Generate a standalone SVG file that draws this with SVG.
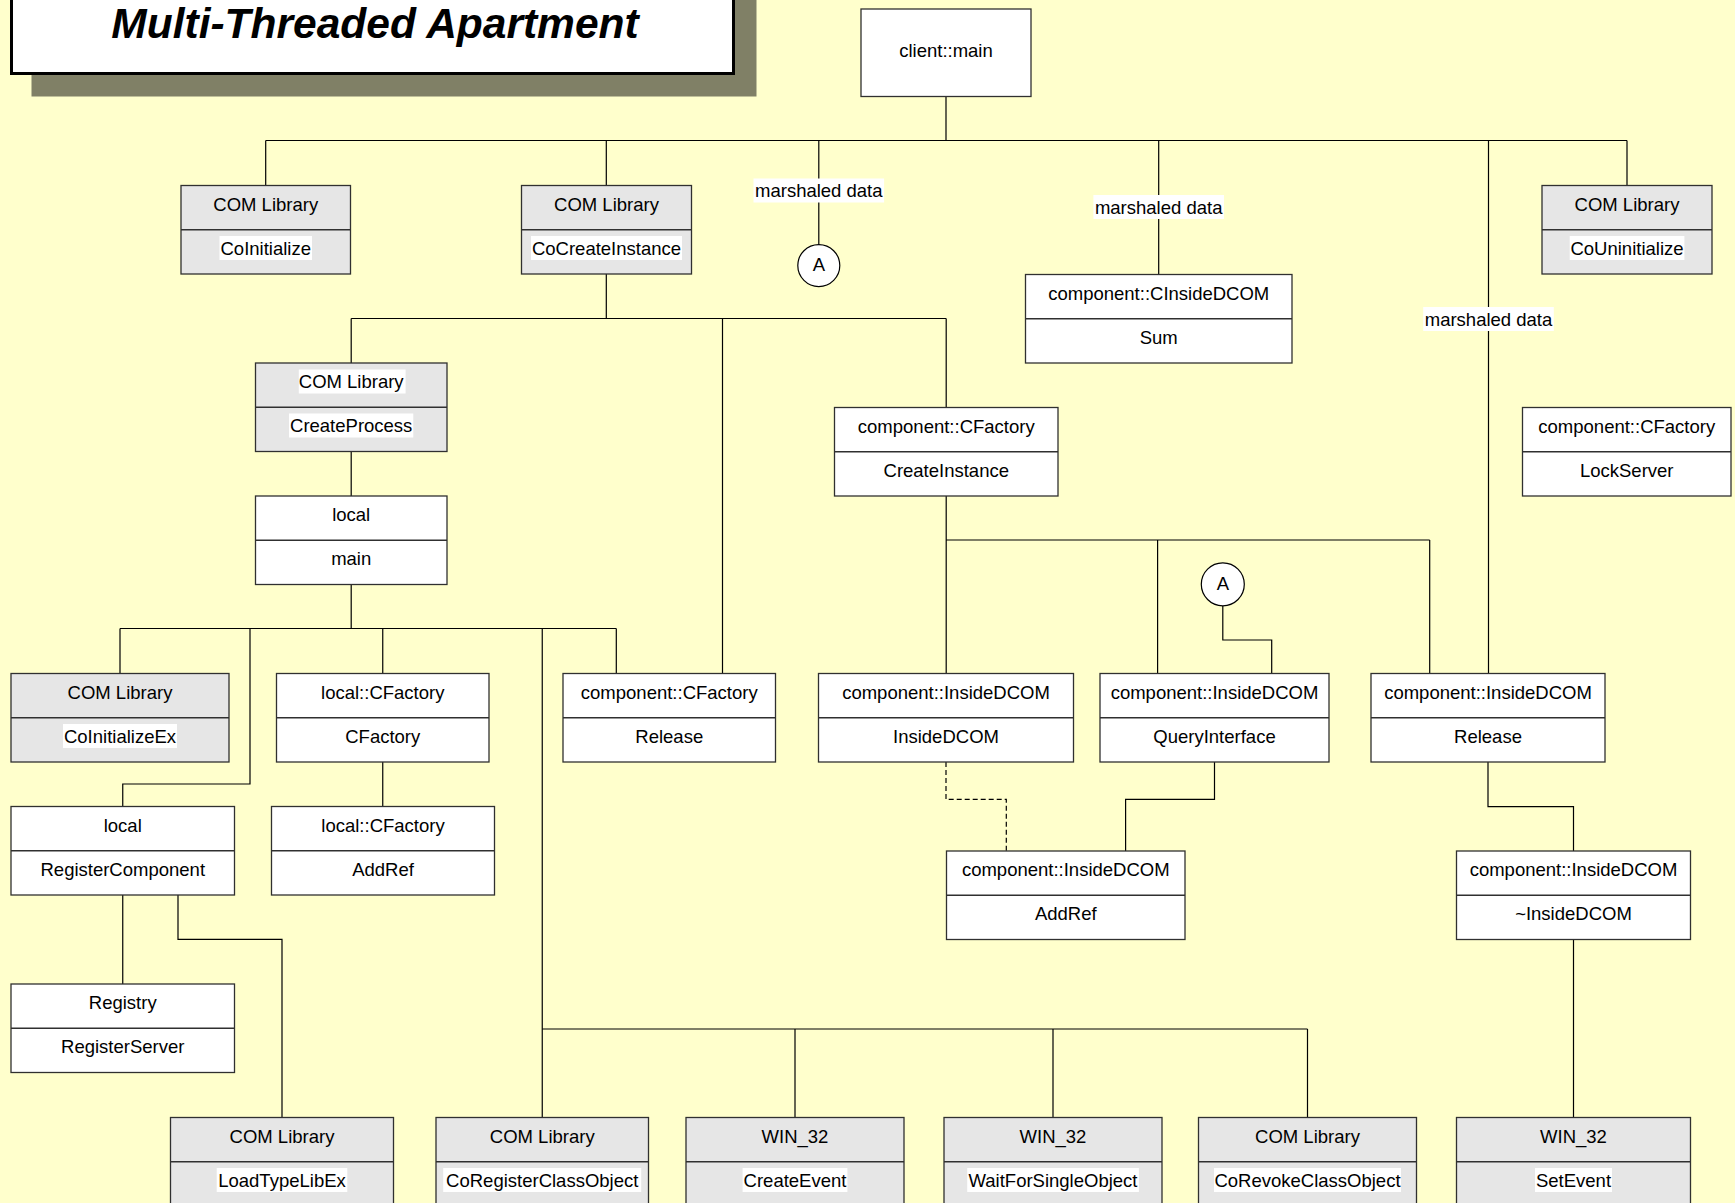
<svg xmlns="http://www.w3.org/2000/svg" width="1735" height="1203" viewBox="0 0 1735 1203">
  <style>
    .bg { fill: #ffffcc; }
    .box { fill: #ffffff; stroke: #303030; stroke-width: 1.3; }
    .gray { fill: #e6e6e6; stroke: #303030; stroke-width: 1.3; }
    .sep { stroke: #303030; stroke-width: 1.3; }
    .t { font-family: "Liberation Sans", Arial, sans-serif; font-size: 18.5px; fill: #000; text-anchor: middle; transform: translateY(-1px); }
    .hl { fill: #ffffff; transform: translateY(-1px); }
    .wire { fill: none; stroke: #000; stroke-width: 1.2; }
    .dash { fill: none; stroke: #000; stroke-width: 1.2; stroke-dasharray: 5 3; }
    .conn { fill: #ffffff; stroke: #000; stroke-width: 1.2; }
  </style>

  <rect class="bg" x="0" y="0" width="1735" height="1203"/>

  <!-- title banner with drop shadow -->
  <g id="title">
    <rect x="31.5" y="-10" width="725" height="106.5" fill="#808066"/>
    <rect x="11.5" y="-30" width="722" height="103.5" fill="#ffffff" stroke="#000" stroke-width="3"/>
    <text x="375" y="37.5" font-family="Liberation Sans, Arial, sans-serif" font-size="42.5" font-weight="bold" font-style="italic" text-anchor="middle">Multi-Threaded Apartment</text>
  </g>

  <!-- connectors -->
  <g id="connectors">
    <path class="wire" d="M946 96.5 V140.5 M265.7 140.5 H1627 M265.7 140.5 V185.5 M606.3 140.5 V185.5 M818.8 140.5 V244.5 M1158.7 140.5 V274.5 M1488.5 140.5 V673.5 M1627 140.5 V185.5"/>
    <path class="wire" d="M606.3 274 V318.5 M351.2 318.5 H946.2 M351.2 318.5 V363 M722.5 318.5 V673.5 M946.2 318.5 V407.5"/>
    <path class="wire" d="M351.2 451.5 V496"/>
    <path class="wire" d="M351.2 584.5 V628.5 M120 628.5 H616.3 M120 628.5 V673.5 M250 628.5 V784 H122.75 V806.5 M382.75 628.5 V673.5 M542.25 628.5 V1117.5 M616.3 628.5 V673.5"/>
    <path class="wire" d="M382.75 762 V806.5"/>
    <path class="wire" d="M122.75 895 V984 M178 895 V939.4 H282 V1117.5"/>
    <path class="wire" d="M542.25 1029 H1307.5 M795 1029 V1117.5 M1053 1029 V1117.5 M1307.5 1029 V1117.5"/>
    <path class="wire" d="M946.2 496 V540 H1429.7 M946.2 540 V673.5 M1157.6 540 V673.5 M1429.7 540 V673.5"/>
    <path class="wire" d="M1222.8 605.8 V640 H1271.7 V673.5"/>
    <path class="wire" d="M1214.5 762 V799.3 H1125.6 V851"/>
    <path class="dash" d="M946 762 V799.3 H1006.3 V851"/>
    <path class="wire" d="M1488 762 V806.7 H1573.5 V851"/>
    <path class="wire" d="M1573.5 939.5 V1117.5"/>

    <!-- marshaled data labels -->
    <rect class="hl" x="753.5" y="179.5" width="130.6" height="24"/>
    <text class="t" x="818.8" y="198">marshaled data</text>
    <rect class="hl" x="1093.4" y="196" width="130.6" height="24"/>
    <text class="t" x="1158.7" y="214.5">marshaled data</text>
    <rect class="hl" x="1423.2" y="308" width="130.6" height="24"/>
    <text class="t" x="1488.5" y="326.5">marshaled data</text>
  </g>

  <!-- off-page connectors -->
  <g id="connector-a1">
    <circle class="conn" cx="818.8" cy="265.6" r="21"/>
    <text class="t" x="818.8" y="272">A</text>
  </g>
  <g id="connector-a2">
    <circle class="conn" cx="1222.8" cy="584.3" r="21.5"/>
    <text class="t" x="1222.8" y="590.7">A</text>
  </g>

  <!-- nodes -->
  <g id="client-main">
    <rect class="box" x="861" y="9" width="170" height="87.5"/>
    <text class="t" x="946" y="58">client::main</text>
  </g>

  <g id="com-coinitialize">
    <rect class="gray" x="181" y="185.5" width="169.5" height="88.5"/>
    <line class="sep" x1="181" y1="229.75" x2="350.5" y2="229.75"/>
    <text class="t" x="265.75" y="211.5">COM Library</text>
    <rect class="hl" x="219.5" y="237" width="92.5" height="24"/>
    <text class="t" x="265.75" y="255.5">CoInitialize</text>
  </g>

  <g id="com-cocreateinstance">
    <rect class="gray" x="521.5" y="185.5" width="170" height="88.5"/>
    <line class="sep" x1="521.5" y1="229.75" x2="691.5" y2="229.75"/>
    <text class="t" x="606.5" y="211.5">COM Library</text>
    <rect class="hl" x="531" y="237" width="151" height="24"/>
    <text class="t" x="606.5" y="255.5">CoCreateInstance</text>
  </g>

  <g id="com-couninitialize">
    <rect class="gray" x="1542" y="185.5" width="170" height="88.5"/>
    <line class="sep" x1="1542" y1="229.75" x2="1712" y2="229.75"/>
    <text class="t" x="1627" y="211.5">COM Library</text>
    <rect class="hl" x="1569.7" y="237" width="114.7" height="24"/>
    <text class="t" x="1627" y="255.5">CoUninitialize</text>
  </g>

  <g id="cinsidedcom-sum">
    <rect class="box" x="1025.5" y="274.5" width="266.5" height="88.5"/>
    <line class="sep" x1="1025.5" y1="318.75" x2="1292" y2="318.75"/>
    <text class="t" x="1158.75" y="300.5">component::CInsideDCOM</text>
    <text class="t" x="1158.75" y="344.5">Sum</text>
  </g>

  <g id="com-createprocess">
    <rect class="gray" x="255.5" y="363" width="191.5" height="88.5"/>
    <line class="sep" x1="255.5" y1="407.25" x2="447" y2="407.25"/>
    <rect class="hl" x="298.8" y="370.5" width="106.8" height="24"/>
    <text class="t" x="351.2" y="389">COM Library</text>
    <rect class="hl" x="289" y="414.5" width="124.3" height="24"/>
    <text class="t" x="351.2" y="433">CreateProcess</text>
  </g>

  <g id="cfactory-createinstance">
    <rect class="box" x="834.5" y="407.5" width="223.5" height="88.5"/>
    <line class="sep" x1="834.5" y1="451.75" x2="1058" y2="451.75"/>
    <text class="t" x="946.25" y="433.5">component::CFactory</text>
    <text class="t" x="946.25" y="477.5">CreateInstance</text>
  </g>

  <g id="cfactory-lockserver">
    <rect class="box" x="1522.5" y="407.5" width="208.5" height="88.5"/>
    <line class="sep" x1="1522.5" y1="451.75" x2="1731" y2="451.75"/>
    <text class="t" x="1626.75" y="433.5">component::CFactory</text>
    <text class="t" x="1626.75" y="477.5">LockServer</text>
  </g>

  <g id="local-main">
    <rect class="box" x="255.5" y="496" width="191.5" height="88.5"/>
    <line class="sep" x1="255.5" y1="540.25" x2="447" y2="540.25"/>
    <text class="t" x="351.2" y="522">local</text>
    <text class="t" x="351.2" y="566">main</text>
  </g>

  <g id="com-coinitializeex">
    <rect class="gray" x="11" y="673.5" width="218" height="88.5"/>
    <line class="sep" x1="11" y1="717.75" x2="229" y2="717.75"/>
    <text class="t" x="120" y="699.5">COM Library</text>
    <rect class="hl" x="63" y="725" width="114" height="24"/>
    <text class="t" x="120" y="743.5">CoInitializeEx</text>
  </g>

  <g id="local-cfactory-ctor">
    <rect class="box" x="276.5" y="673.5" width="212.5" height="88.5"/>
    <line class="sep" x1="276.5" y1="717.75" x2="489" y2="717.75"/>
    <text class="t" x="382.75" y="699.5">local::CFactory</text>
    <text class="t" x="382.75" y="743.5">CFactory</text>
  </g>

  <g id="cfactory-release">
    <rect class="box" x="563" y="673.5" width="212.5" height="88.5"/>
    <line class="sep" x1="563" y1="717.75" x2="775.5" y2="717.75"/>
    <text class="t" x="669.25" y="699.5">component::CFactory</text>
    <text class="t" x="669.25" y="743.5">Release</text>
  </g>

  <g id="insidedcom-ctor">
    <rect class="box" x="818.5" y="673.5" width="255" height="88.5"/>
    <line class="sep" x1="818.5" y1="717.75" x2="1073.5" y2="717.75"/>
    <text class="t" x="946" y="699.5">component::InsideDCOM</text>
    <text class="t" x="946" y="743.5">InsideDCOM</text>
  </g>

  <g id="insidedcom-queryinterface">
    <rect class="box" x="1100" y="673.5" width="229" height="88.5"/>
    <line class="sep" x1="1100" y1="717.75" x2="1329" y2="717.75"/>
    <text class="t" x="1214.5" y="699.5">component::InsideDCOM</text>
    <text class="t" x="1214.5" y="743.5">QueryInterface</text>
  </g>

  <g id="insidedcom-release">
    <rect class="box" x="1371" y="673.5" width="234" height="88.5"/>
    <line class="sep" x1="1371" y1="717.75" x2="1605" y2="717.75"/>
    <text class="t" x="1488" y="699.5">component::InsideDCOM</text>
    <text class="t" x="1488" y="743.5">Release</text>
  </g>

  <g id="local-registercomponent">
    <rect class="box" x="11" y="806.5" width="223.5" height="88.5"/>
    <line class="sep" x1="11" y1="850.75" x2="234.5" y2="850.75"/>
    <text class="t" x="122.75" y="832.5">local</text>
    <text class="t" x="122.75" y="876.5">RegisterComponent</text>
  </g>

  <g id="local-cfactory-addref">
    <rect class="box" x="271.5" y="806.5" width="223" height="88.5"/>
    <line class="sep" x1="271.5" y1="850.75" x2="494.5" y2="850.75"/>
    <text class="t" x="383" y="832.5">local::CFactory</text>
    <text class="t" x="383" y="876.5">AddRef</text>
  </g>

  <g id="insidedcom-addref">
    <rect class="box" x="946.5" y="851" width="238.5" height="88.5"/>
    <line class="sep" x1="946.5" y1="895.25" x2="1185" y2="895.25"/>
    <text class="t" x="1065.75" y="877">component::InsideDCOM</text>
    <text class="t" x="1065.75" y="921">AddRef</text>
  </g>

  <g id="insidedcom-dtor">
    <rect class="box" x="1456.5" y="851" width="234" height="88.5"/>
    <line class="sep" x1="1456.5" y1="895.25" x2="1690.5" y2="895.25"/>
    <text class="t" x="1573.5" y="877">component::InsideDCOM</text>
    <text class="t" x="1573.5" y="921">~InsideDCOM</text>
  </g>

  <g id="registry-registerserver">
    <rect class="box" x="11" y="984" width="223.5" height="88.5"/>
    <line class="sep" x1="11" y1="1028.25" x2="234.5" y2="1028.25"/>
    <text class="t" x="122.75" y="1010">Registry</text>
    <text class="t" x="122.75" y="1054">RegisterServer</text>
  </g>

  <g id="com-loadtypelibex">
    <rect class="gray" x="170.5" y="1117.5" width="223" height="88.5"/>
    <line class="sep" x1="170.5" y1="1161.75" x2="393.5" y2="1161.75"/>
    <text class="t" x="282" y="1143.5">COM Library</text>
    <rect class="hl" x="216.7" y="1169" width="130.6" height="24"/>
    <text class="t" x="282" y="1187.5">LoadTypeLibEx</text>
  </g>

  <g id="com-coregisterclassobject">
    <rect class="gray" x="436" y="1117.5" width="212.5" height="88.5"/>
    <line class="sep" x1="436" y1="1161.75" x2="648.5" y2="1161.75"/>
    <text class="t" x="542.25" y="1143.5">COM Library</text>
    <rect class="hl" x="443.2" y="1169" width="198" height="24"/>
    <text class="t" x="542.25" y="1187.5">CoRegisterClassObject</text>
  </g>

  <g id="win32-createevent">
    <rect class="gray" x="686" y="1117.5" width="218" height="88.5"/>
    <line class="sep" x1="686" y1="1161.75" x2="904" y2="1161.75"/>
    <text class="t" x="795" y="1143.5">WIN_32</text>
    <rect class="hl" x="742.6" y="1169" width="104.8" height="24"/>
    <text class="t" x="795" y="1187.5">CreateEvent</text>
  </g>

  <g id="win32-waitforsingleobject">
    <rect class="gray" x="944" y="1117.5" width="218" height="88.5"/>
    <line class="sep" x1="944" y1="1161.75" x2="1162" y2="1161.75"/>
    <text class="t" x="1053" y="1143.5">WIN_32</text>
    <rect class="hl" x="967.2" y="1169" width="171.7" height="24"/>
    <text class="t" x="1053" y="1187.5">WaitForSingleObject</text>
  </g>

  <g id="com-corevokeclassobject">
    <rect class="gray" x="1198.5" y="1117.5" width="218" height="88.5"/>
    <line class="sep" x1="1198.5" y1="1161.75" x2="1416.5" y2="1161.75"/>
    <text class="t" x="1307.5" y="1143.5">COM Library</text>
    <rect class="hl" x="1214" y="1169" width="187" height="24"/>
    <text class="t" x="1307.5" y="1187.5">CoRevokeClassObject</text>
  </g>

  <g id="win32-setevent">
    <rect class="gray" x="1456.5" y="1117.5" width="234" height="88.5"/>
    <line class="sep" x1="1456.5" y1="1161.75" x2="1690.5" y2="1161.75"/>
    <text class="t" x="1573.5" y="1143.5">WIN_32</text>
    <rect class="hl" x="1535" y="1169" width="77" height="24"/>
    <text class="t" x="1573.5" y="1187.5">SetEvent</text>
  </g>
</svg>
